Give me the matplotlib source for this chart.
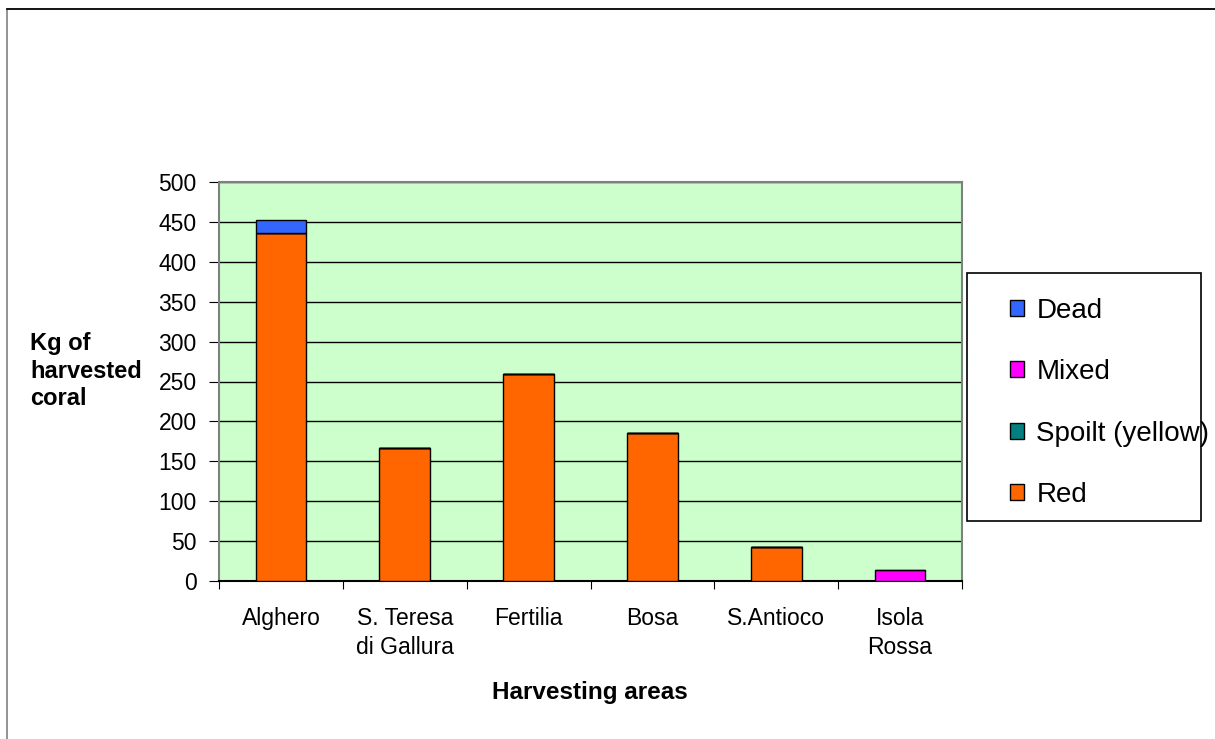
import numpy as np
import matplotlib.pyplot as plt
from matplotlib.patches import Rectangle

areas = ['Alghero', 'S. Teresa\ndi Gallura', 'Fertilia', 'Bosa', 'S.Antioco', 'Isola\nRossa']
red = [436, 167, 260, 186, 42, 0]
spoilt = [0, 0, 0, 0, 0, 0]
mixed = [0, 0, 0, 0, 0, 14]
dead = [16, 0, 0, 0, 0, 0]

plt.rcParams['font.family'] = ['Liberation Sans', 'DejaVu Sans']

W, H = 1215, 739
fig = plt.figure(figsize=(W / 100, H / 100), dpi=100)
# outer frame
fig.patches.append(Rectangle((7/W, -0.1), 1.2, 1 - 9/H + 0.1, transform=fig.transFigure,
                             fill=False, edgecolor='#808080', lw=1.2))
fig.lines.append(plt.Line2D([7/W, 1], [1 - 9/H, 1 - 9/H], transform=fig.transFigure,
                            color='black', lw=1.2))

ax = fig.add_axes([219/W, 1 - 581/H, 743/W, 399/H])
ax.set_facecolor('#CCFFCC')

x = np.arange(len(areas))
w = 0.41
bottom = np.zeros(len(areas))
series = [('Red', red, '#FF6600'), ('Spoilt (yellow)', spoilt, '#008080'),
          ('Mixed', mixed, '#FF00FF'), ('Dead', dead, '#3366FF')]
handles = {}
for name, vals, col in series:
    vals = np.array(vals, dtype=float)
    b = ax.bar(x, vals, w, bottom=bottom, color=col, edgecolor='black', linewidth=1, zorder=3)
    handles[name] = b
    bottom += vals

ax.set_xlim(-0.5, len(areas) - 0.5)
ax.set_ylim(0, 500)
ax.set_yticks(np.arange(0, 501, 50))
ax.yaxis.grid(True, color='black', lw=1)
ax.set_axisbelow(True)
ax.set_xticks(np.arange(-0.5, len(areas), 1))
ax.set_xticklabels([])
ax.set_xticks(x, minor=True)
ax.set_xticklabels(areas, minor=True, fontsize=16.5, linespacing=1.3)
ax.tick_params(axis='x', which='minor', length=0, pad=19)
ax.tick_params(axis='x', which='major', length=6, color='black')
ax.tick_params(axis='y', length=7, labelsize=16.5, pad=9)
for s in ax.spines.values():
    s.set_color('#808080')
    s.set_linewidth(1.5)
ax.spines['bottom'].set_color('black')

fig.text(30/W, 1 - 371/H, 'Kg of\nharvested\ncoral', fontsize=17, fontweight='bold',
         ha='left', va='center', linespacing=1.25)
fig.text(590/W, 1 - 693/H, 'Harvesting areas', fontsize=17.5, fontweight='bold',
         ha='center', va='center')

# legend box drawn separately
fig.patches.append(Rectangle((967/W, 1 - 521/H), 234/W, 248/H, transform=fig.transFigure,
                             facecolor='white', edgecolor='black', lw=1.2))
order = ['Dead', 'Mixed', 'Spoilt (yellow)', 'Red']
leg = fig.legend([handles[n] for n in order], order, loc='upper left',
                 bbox_to_anchor=(1010/W, 1 - 298/H), fontsize=20, frameon=False,
                 borderpad=0, labelspacing=1.27, borderaxespad=0,
                 handlelength=0.5, handleheight=0.5, handletextpad=0.45)

fig.savefig('out.png', dpi=100)
